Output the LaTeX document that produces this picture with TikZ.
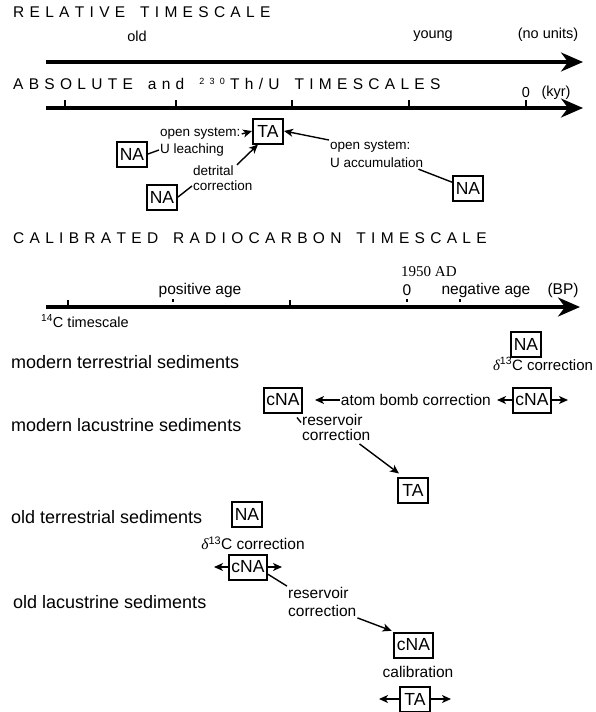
\documentclass[tikz,border=0pt]{standalone}
\usepackage{fontspec}
\setmainfont{Liberation Sans}
\newfontfamily\seriffont{Liberation Serif}
\usetikzlibrary{arrows.meta}
\newcommand\lsp[1]{\lspA#1\relax}
\def\lspA#1{\ifx#1\relax\else#1\kern5.3pt\expandafter\lspA\fi}
\newcommand\dlt{{\seriffont\itshape δ}}
\begin{document}
\begin{tikzpicture}[x=1pt,y=-1pt,
  title/.style={anchor=west,inner sep=0pt,font=\fontsize{15.5}{18}\selectfont},
  axis/.style={line width=3.2pt,-{Stealth[length=22pt,width=19pt,inset=7pt]}},
  lab/.style={inner sep=1pt,font=\fontsize{14.5}{17}\selectfont},
  sm/.style={inner sep=1pt,font=\fontsize{13.5}{16}\selectfont},
  mid/.style={inner sep=1pt,font=\fontsize{15.5}{18}\selectfont},
  side/.style={anchor=west,inner sep=0pt,font=\fontsize{18}{20}\selectfont},
  box/.style={draw,line width=2pt,inner sep=2.5pt,minimum height=25pt,minimum width=30pt,font=\fontsize{17.5}{19}\selectfont},
  conn/.style={line width=1.4pt,-{Stealth[length=9pt,width=8pt,inset=2.5pt]}},
  ln/.style={line width=1.4pt},
  tick/.style={line width=1.5pt}]
\useasboundingbox (0,0) rectangle (596,712);
% relative
\node[title] (t1) at (13,12) {\lsp{RELATIVE~TIMESCALE}};
\coordinate (a1s) at (46,62); \coordinate (a1e) at (583,62);
\draw[axis] (a1s) -- (a1e);
\node[lab] (old) at (137,36) {old};
\node[lab] (young) at (433,36) {young};
\node[lab] (nou) at (548,35) {(no units)};
% absolute
\node[title] (t2) at (13,84) {\lsp{ABSOLUTE~and~}\raisebox{5pt}{\fontsize{9}{9}\selectfont\lsp{230}}\lsp{Th/U~TIMESCALES}};
\coordinate (a2s) at (46,108); \coordinate (a2e) at (583,108);
\draw[axis] (a2s) -- (a2e);
\foreach \x in {65,176,292,409,526} \draw[tick] (\x,100) -- (\x,108);
\node[lab] (zero) at (526,93) {0};
\node[lab] (kyr) at (556,93) {(kyr)};
\node[box] (ta1) at (268,131) {TA};
\node[box] (na1) at (132,154) {NA};
\node[box] (na2) at (162,197) {NA};
\node[box] (na3) at (468,188) {NA};
\node[sm,anchor=west] (osl1) at (159,134) {open system:};
\node[sm,anchor=west] (osl2) at (159,150) {U leaching};
\node[sm,anchor=west] (det1) at (192,171) {detrital};
\node[sm,anchor=west] (det2) at (192,186) {correction};
\node[sm,anchor=west] (osr1) at (329,147) {open system:};
\node[sm,anchor=west] (osr2) at (329,163) {U accumulation};
\draw[conn] (osl1.east) -- (ta1.west);
\draw[conn] ([xshift=2pt]det1.north east) -- ([xshift=6pt]ta1.south west);
\draw[conn] (osr1.north west) -- (ta1.east);
\draw[ln] (na1.east) -- (osl2.west);
\draw[ln] (na2.east) -- (det2.west);
\draw[ln] ([xshift=-6pt]osr2.south east) -- (na3.160);
% calibrated
\node[title] (t3) at (13,238) {\lsp{CALIBRATED~RADIOCARBON~TIMESCALE}};
\node[inner sep=0pt,font=\seriffont\fontsize{15}{17}\selectfont,anchor=west] (ad) at (401,272) {1950 AD};
\node[mid] (pos) at (200,290) {positive age};
\node[mid] (z0) at (407,290) {0};
\node[mid] (neg) at (486,290) {negative age};
\node[mid] (bp) at (563,290) {(BP)};
\foreach \x in {173,407,460} \draw[tick] (\x,299) -- (\x,302);
\coordinate (a3s) at (46,307); \coordinate (a3e) at (580,307);
\draw[axis] (a3s) -- (a3e);
\foreach \x in {68,290} \draw[tick] (\x,300) -- (\x,307);
\node[lab,anchor=west] (c14) at (40,321) {\textsuperscript{14}C timescale};
% sediments
\node[side] (mts) at (11,362) {modern terrestrial sediments};
\node[side] (mls) at (11,425) {modern lacustrine sediments};
\node[side] (ots) at (11,517) {old terrestrial sediments};
\node[side] (ols) at (13,602) {old lacustrine sediments};
\node[box] (na4) at (526,344) {NA};
\node[mid,font=\fontsize{15}{17}\selectfont] (d1) at (543,364) {\dlt\textsuperscript{13}C correction};
\node[box] (cna5) at (532,400) {cNA};
\coordinate (c5l) at (497,400); \coordinate (c5r) at (568,400);
\draw[conn] (cna5.west) -- (c5l);
\draw[conn] (cna5.east) -- (c5r);
\node[mid,anchor=east] (ab) at (492,400) {atom bomb correction};
\node[box] (cna4) at (283,400) {cNA};
\draw[conn,shorten >=12pt] (ab.west) -- (cna4.east);
\node[mid,anchor=west] (rv1) at (301,420) {reservoir};
\node[mid,anchor=west] (rv2) at (301,435) {correction};
\node[box] (ta6) at (413,490) {TA};
\draw[ln] ([shift={(14pt,-4pt)}]cna4.south) -- ([shift={(18pt,-9pt)}]cna4.south);
\draw[conn] ([shift={(-12pt,-2pt)}]rv2.south east) -- ([shift={(2pt,3pt)}]ta6.north west);
\node[box] (na6) at (247,514) {NA};
\node[mid] (d2) at (253,543) {\dlt\textsuperscript{13}C correction};
\node[box] (cna7) at (248,567) {cNA};
\coordinate (c7l) at (214,567); \coordinate (c7r) at (282,567);
\draw[conn] (cna7.west) -- (c7l);
\draw[conn] (cna7.east) -- (c7r);
\node[mid,anchor=west] (rv3) at (287,593) {reservoir};
\node[mid,anchor=west] (rv4) at (287,611) {correction};
\draw[ln] (cna7.-20) -- (rv3.north west);
\node[box] (cna8) at (413.5,645) {cNA};
\draw[conn,shorten >=2pt] (rv4.south east) -- (cna8.north west);
\node[mid] (cal) at (418,672) {calibration};
\node[box] (ta9) at (415,699) {TA};
\coordinate (t9l) at (379,699); \coordinate (t9r) at (451,699);
\draw[conn] (ta9.west) -- (t9l);
\draw[conn] (ta9.east) -- (t9r);
\end{tikzpicture}
\end{document}
